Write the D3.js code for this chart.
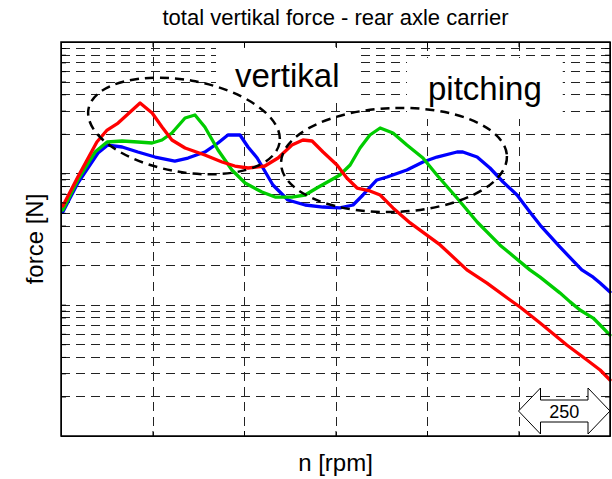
<!DOCTYPE html>
<html>
<head>
<meta charset="utf-8">
<script src="https://cdn.jsdelivr.net/npm/d3@7"></script>
<style>
body { margin: 0; background: #fff; }
text { font-family: "Liberation Sans", Arial, Helvetica, sans-serif; fill: #000; }
</style>
</head>
<body>
<div id="chart"></div>
<script>
(function() {

// speed [rpm] and force [N]
var redRpm = [5,46,98,126,156,189,216,249,276,303,339,393,440,475,511,557,593,631,661,686,716,754,781,809,844,872,907,954,1036,1109,1164,1227,1254,1309,1382,1437,1473,1500];
var redForce = [564,938,1732,2137,2416,2931,3431,2880,2253,1794,1559,1379,1220,1137,1098,1137,1308,1643,1794,1763,1453,1157,921,773,734,684,545,419,285,184,146,108.5,96,72.5,49.3,37.9,31.8,26.7];

var greenRpm = [5,46,93,126,167,210,249,276,303,339,366,393,429,467,503,549,585,631,667,699,762,790,817,844,872,907,945,989,1027,1082,1137,1199,1281,1309,1363,1391,1418,1454,1473,1500];
var greenForce = [526,890,1453,1732,1763,1732,1702,1794,2028,2638,2781,2253,1505,1060,844,721,660,660,684,773,971,1157,1559,1958,2214,2028,1643,1308,971,649,426,285,184,162,123,105,91.1,79.1,70,58.7];

var blueRpm = [5,46,101,128,167,210,257,311,347,393,429,456,489,511,536,579,620,667,716,762,798,825,863,891,945,989,1027,1082,1098,1137,1172,1208,1246,1281,1309,1363,1423,1454,1473,1500];
var blueForce = [508,844,1428,1643,1587,1453,1331,1241,1308,1453,1702,1958,1958,1587,1308,815,627,574,554,545,574,684,890,938,1060,1220,1331,1453,1453,1331,1098,859,684,508,404,275,184,162,146,125];

var xTicks = [0,250,500,750,1000,1250,1500];
var yDomain = [10, 10000];

var margin = {top: 42, right: 2, bottom: 43, left: 61},
    width = 612 - margin.left - margin.right,
    height = 479 - margin.top - margin.bottom;

var x = d3.scaleLinear().domain([0, 1500]).range([0, width]);
var y = d3.scaleLog().domain(yDomain).range([height, 0]);

var svg = d3.select("#chart").append("svg")
    .attr("width", width + margin.left + margin.right)
    .attr("height", height + margin.top + margin.bottom);

var g = svg.append("g")
    .attr("transform", "translate(" + margin.left + "," + margin.top + ")");

// grid
g.selectAll(".vgrid")
    .data(xTicks.slice(1, -1))
  .enter().append("line")
    .attr("class", "vgrid")
    .attr("x1", function(d) { return Math.round(x(d)) + 0.5; })
    .attr("x2", function(d) { return Math.round(x(d)) + 0.5; })
    .attr("y1", 0)
    .attr("y2", height)
    .style("stroke", "#222")
    .style("stroke-width", 1)
    .style("stroke-dasharray", "9,6");

g.selectAll(".hgrid")
    .data(y.ticks().filter(function(d) { return d > yDomain[0] && d < yDomain[1]; }))
  .enter().append("line")
    .attr("class", "hgrid")
    .attr("x1", 0)
    .attr("x2", width)
    .attr("y1", function(d) { return Math.round(y(d)) + 0.5; })
    .attr("y2", function(d) { return Math.round(y(d)) + 0.5; })
    .style("stroke", "#222")
    .style("stroke-width", 1)
    .style("stroke-dasharray", "9,6");

// labels with white boxes
function boxLabel(txt, px, py, padX, padY) {
  var t = svg.append("text")
      .attr("x", px)
      .attr("y", py)
      .style("font-size", "33px")
      .text(txt);
  var b = t.node().getBBox();
  svg.insert("rect", "text")
      .attr("x", b.x - padX)
      .attr("y", b.y - padY)
      .attr("width", b.width + 2 * padX)
      .attr("height", b.height + 2 * padY)
      .style("fill", "#fff");
}
boxLabel("vertikal", 235, 87, 19, 9);
boxLabel("pitching", 428, 100, 21, 12);

// curves
var line = d3.line()
    .x(function(d) { return x(d[0]); })
    .y(function(d) { return y(d[1]); });

var series = [
  {rpm: blueRpm, force: blueForce, color: "#0000ff"},
  {rpm: greenRpm, force: greenForce, color: "#00cc00"},
  {rpm: redRpm, force: redForce, color: "#ff0000"}
];

g.selectAll(".curve")
    .data(series)
  .enter().append("path")
    .attr("class", "curve")
    .attr("d", function(s) { return line(d3.zip(s.rpm, s.force)); })
    .style("fill", "none")
    .style("stroke", function(s) { return s.color; })
    .style("stroke-width", 3.3)
    .style("stroke-linejoin", "round")
    .style("stroke-linecap", "round");

// dashed ellipses
svg.append("ellipse")
    .attr("transform", "translate(184,126) rotate(10)")
    .attr("rx", 97).attr("ry", 46)
    .style("fill", "none").style("stroke", "#000")
    .style("stroke-width", 2.5).style("stroke-dasharray", "9,6");

svg.append("ellipse")
    .attr("transform", "translate(394,160) rotate(-2)")
    .attr("rx", 113).attr("ry", 52)
    .style("fill", "none").style("stroke", "#000")
    .style("stroke-width", 2.5).style("stroke-dasharray", "9,6");

// axes: inward ticks, no labels
g.append("g").call(d3.axisLeft(y).tickSizeInner(-5).tickSizeOuter(0).tickFormat(""));
g.append("g").attr("transform", "translate(" + width + ",0)")
    .call(d3.axisRight(y).tickSizeInner(-5).tickSizeOuter(0).tickFormat(""));
g.append("g").attr("transform", "translate(0," + height + ")")
    .call(d3.axisBottom(x).tickValues(xTicks).tickSizeInner(-5).tickSizeOuter(0).tickFormat(""));
g.append("g")
    .call(d3.axisTop(x).tickValues(xTicks).tickSizeInner(-5).tickSizeOuter(0).tickFormat(""));

g.append("rect")
    .attr("width", width)
    .attr("height", height)
    .style("fill", "none")
    .style("stroke", "#000")
    .style("stroke-width", 1.5);

// 250 rpm scale arrow
var ax0 = x(1250), ax1 = x(1500), ay = 369, head = 22;
var arrowPts = [
  [ax0, ay], [ax0 + head, ay - 23], [ax0 + head, ay - 11], [ax1 - head, ay - 11],
  [ax1 - head, ay - 23], [ax1, ay], [ax1 - head, ay + 23], [ax1 - head, ay + 11],
  [ax0 + head, ay + 11], [ax0 + head, ay + 23]
];
g.append("polygon")
    .attr("points", arrowPts.map(function(p) { return p.join(","); }).join(" "))
    .style("fill", "#fff")
    .style("stroke", "#000")
    .style("stroke-width", 1);
g.append("text")
    .attr("x", (ax0 + ax1) / 2)
    .attr("y", ay + 7)
    .style("text-anchor", "middle")
    .style("font-size", "18px")
    .text("250");

// titles
svg.append("text")
    .attr("x", margin.left + width / 2)
    .attr("y", 25)
    .style("text-anchor", "middle")
    .style("font-size", "22px")
    .text("total vertikal force - rear axle carrier");

svg.append("text")
    .attr("x", margin.left + width / 2)
    .attr("y", 471)
    .style("text-anchor", "middle")
    .style("font-size", "24px")
    .text("n [rpm]");

svg.append("text")
    .attr("transform", "translate(43," + (margin.top + height / 2) + ") rotate(-90)")
    .style("text-anchor", "middle")
    .style("font-size", "24px")
    .text("force [N]");

})();
</script>
</body>
</html>
